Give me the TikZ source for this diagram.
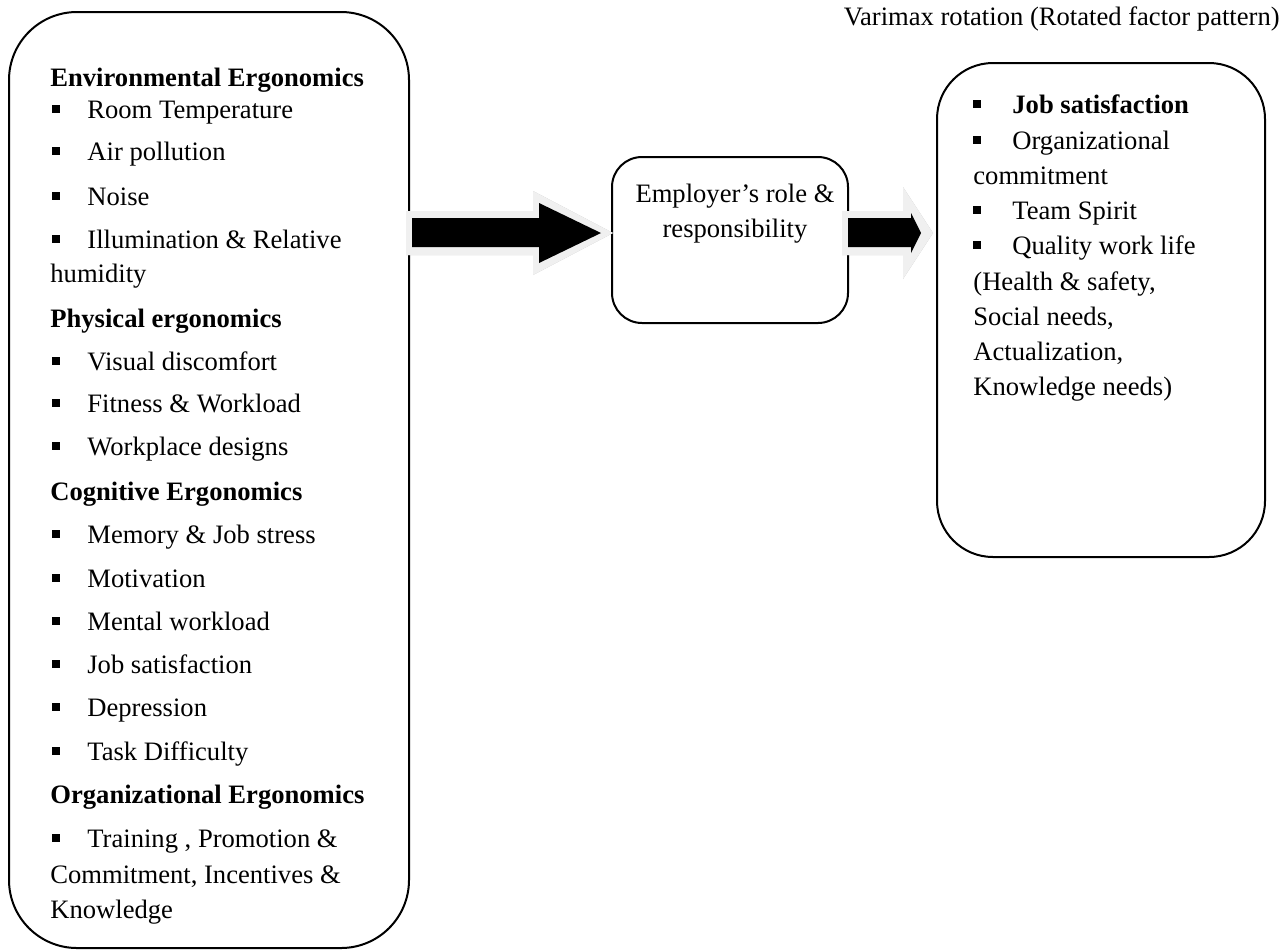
\documentclass[tikz,border=0pt]{standalone}
\usepackage{fontspec}
\setmainfont{Liberation Serif}
\usetikzlibrary{calc}
\definecolor{arrowrim}{gray}{0.94}
\definecolor{arrowshade}{gray}{0.74}
\tikzset{
    panel/.style={
        draw, line width=1pt, rounded corners=#1,
        inner sep=0pt, outer sep=0pt
    },
    panel/.default=14pt,
    lbl/.style={anchor=base west, inner sep=0pt, font=\fontsize{13.3}{16}\selectfont},
    head/.style={lbl, font=\fontsize{13.3}{16}\selectfont\bfseries},
    bullet/.style={fill, inner sep=0pt, minimum width=3.8pt, minimum height=4pt, anchor=south west}
}
% bullet item: name, bullet x, text x, baseline y, text
\newcommand{\bitem}[5] {
	\node[bullet] (#1b) at (#2,#4-5) {};
	\node[lbl] (#1) at (#3,#4) {#5};
}
% block arrow: start, end, rim head length, rim head half, core head base, core head half
\newcommand{\blockarrow}[6] {
	\begin{scope}[shift={(4,5)}]
		\fill[arrowshade] ($(#1)+(0,-22)$) -- ($(#2)+(-#3,-22)$) -- ($(#2)+(-#3,-#4)$) -- (#2)
			-- ($(#2)+(-#3,#4)$) -- ($(#2)+(-#3,22)$) -- ($(#1)+(0,22)$) -- cycle;
	\end{scope}
	\fill[arrowrim] ($(#1)+(0,-22)$) -- ($(#2)+(-#3,-22)$) -- ($(#2)+(-#3,-#4)$) -- (#2)
		-- ($(#2)+(-#3,#4)$) -- ($(#2)+(-#3,22)$) -- ($(#1)+(0,22)$) -- cycle;
	\fill[black] ($(#1)+(6,-15)$) -- ($(#2)+(-#5,-15)$) -- ($(#2)+(-#5,-#6)$) -- ($(#2)+(-12,0)$)
		-- ($(#2)+(-#5,#6)$) -- ($(#2)+(-#5,14)$) -- ($(#1)+(6,14)$) -- cycle;
}

\begin{document}
\begin{tikzpicture}[x=0.5pt, y=-0.5pt]
		\useasboundingbox (0,0) rectangle (1284,949);

		% title
		\node[lbl, anchor=base east] (title) at (1280,25) {Varimax rotation (Rotated factor pattern)};

		% boxes
		\node[panel=34pt, minimum width=200pt, minimum height=468pt] (env) at (209,480) {};
		\node[panel=15pt, minimum width=118pt, minimum height=83pt] (role) at (730,240) {};
		\node[panel=28pt, minimum width=164pt, minimum height=247pt] (goal) at (1101,310) {};

		% left box
		\node[head] (envhead) at (50,86) {Environmental Ergonomics};
		\bitem{e1}{52}{87}{118}{Room Temperature}
		\bitem{e2}{52}{87}{160}{Air pollution}
		\bitem{e3}{52}{87}{205}{Noise}
		\bitem{e4}{52}{87}{248}{Illumination \& Relative}
		\node[lbl] (e4w) at (50,282) {humidity};

		\node[head] (phyhead) at (50,327) {Physical ergonomics};
		\bitem{p1}{52}{87}{370}{Visual discomfort}
		\bitem{p2}{52}{87}{412}{Fitness \& Workload}
		\bitem{p3}{52}{87}{455}{Workplace designs}

		\node[head] (coghead) at (50,500) {Cognitive Ergonomics};
		\bitem{c1}{52}{87}{543}{Memory \& Job stress}
		\bitem{c2}{52}{87}{587}{Motivation}
		\bitem{c3}{52}{87}{630}{Mental workload}
		\bitem{c4}{52}{87}{673}{Job satisfaction}
		\bitem{c5}{52}{87}{716}{Depression}
		\bitem{c6}{52}{87}{760}{Task Difficulty}

		\node[head] (orghead) at (50,803) {Organizational Ergonomics};
		\bitem{o1}{52}{87}{847}{Training , Promotion \&}
		\node[lbl] (o1w) at (50,883) {Commitment, Incentives \&};
		\node[lbl] (o1x) at (50,918) {Knowledge};

		% middle box
		\node[lbl, anchor=base] (role1) at (735,202) {Employer’s role \&};
		\node[lbl, anchor=base] (role2) at (735,237) {responsibility};

		% right box
		\bitem{g1}{973}{1012}{113}{\textbf{Job satisfaction}}
		\bitem{g2}{973}{1012}{149}{Organizational}
		\node[lbl] (g2w) at (973,184) {commitment};
		\bitem{g3}{973}{1012}{219}{Team Spirit}
		\bitem{g4}{973}{1012}{254}{Quality work life}
		\node[lbl] (g4w) at (973,290) {(Health \& safety,};
		\node[lbl] (g4x) at (973,325) {Social needs,};
		\node[lbl] (g4y) at (973,360) {Actualization,};
		\node[lbl] (g4z) at (973,395) {Knowledge needs)};

		% arrows
		\coordinate (lvl) at (0,233);
		\coordinate (a1s) at ($(env.east |- lvl)+(-3,0)$);
		\coordinate (a1e) at ($(role.west |- lvl)+(1,0)$);
		\coordinate (a2s) at ($(role.east |- lvl)+(-6,0)$);
		\coordinate (a2e) at ($(goal.west |- lvl)+(-4,0)$);
		\blockarrow{a1s}{a1e}{80}{42}{74}{30}
		\blockarrow{a2s}{a2e}{30}{46}{22}{20}

	\end{tikzpicture}
\end{document}
